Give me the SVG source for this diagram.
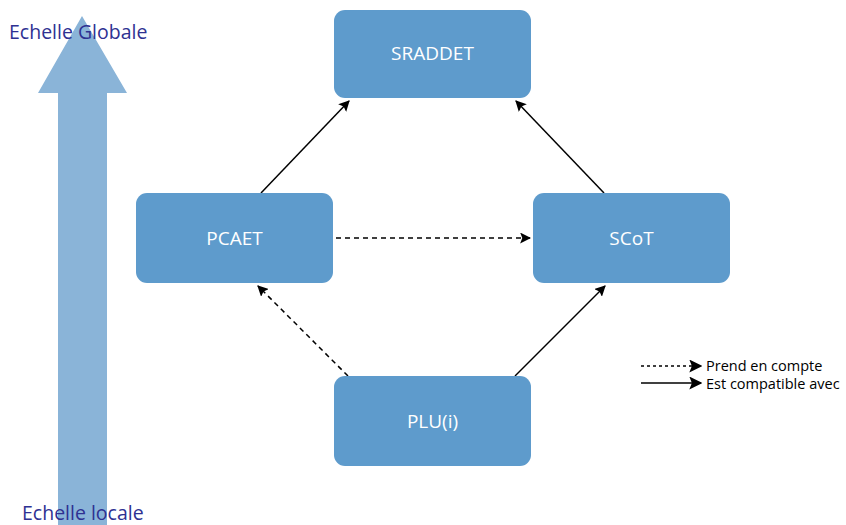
<svg xmlns="http://www.w3.org/2000/svg" width="846" height="525" viewBox="0 0 846 525">
<style>
.box{fill:#5e9bcc}
.lbl{font-family:"Open Sans","Liberation Sans",sans-serif;font-size:19px;fill:#fff;text-anchor:middle}
.scale{font-family:"Open Sans","Liberation Sans",sans-serif;font-size:19.5px;fill:#2e3192}
.leg{font-family:"Open Sans","Liberation Sans",sans-serif;font-size:14.5px;fill:#000}
.c{stroke:#000;stroke-width:1.5;fill:none;marker-end:url(#ah)}
.d{stroke-dasharray:5,4}
</style>
<defs>
<marker id="ah" viewBox="0 0 10 10" refX="9" refY="5" markerWidth="11" markerHeight="11" markerUnits="userSpaceOnUse" orient="auto"><path d="M0,0 L10,5 L0,10 L2,5 Z" fill="#000"/></marker>
<marker id="ahl" viewBox="0 0 10 10" refX="9" refY="5" markerWidth="13" markerHeight="13" markerUnits="userSpaceOnUse" orient="auto"><path d="M0,0 L10,5 L0,10 L2,5 Z" fill="#000"/></marker>
</defs>
<g id="scale-arrow">
<polygon points="82,16 127,93 107,93 107,525 58,525 58,93 38,93" fill="#8ab4d8"/>
<text class="scale" x="9" y="39">Echelle Globale</text>
<text class="scale" x="22" y="520">Echelle locale</text>
</g>
<g id="connectors">
<line class="c" x1="261" y1="193" x2="349" y2="101"/>
<line class="c" x1="604" y1="193" x2="516" y2="101"/>
<line class="c" x1="515" y1="376" x2="605" y2="286"/>
<line class="c d" x1="348" y1="376" x2="258" y2="286"/>
<line class="c d" x1="336" y1="238" x2="530" y2="238"/>
</g>
<g id="SRADDET"><rect class="box" x="334" y="10" width="197" height="88" rx="11"/><text class="lbl" x="432.5" y="60">SRADDET</text></g>
<g id="PCAET"><rect class="box" x="136" y="193" width="197" height="90" rx="11"/><text class="lbl" x="234.5" y="245">PCAET</text></g>
<g id="SCoT"><rect class="box" x="533" y="193" width="197" height="90" rx="11"/><text class="lbl" x="631.5" y="245">SCoT</text></g>
<g id="PLU"><rect class="box" x="334" y="376" width="197" height="90" rx="11"/><text class="lbl" x="432.5" y="428">PLU(i)</text></g>
<g id="legend">
<line x1="641" y1="366" x2="701" y2="366" stroke="#000" stroke-width="1.3" stroke-dasharray="3,3" marker-end="url(#ahl)"/>
<line x1="641" y1="383" x2="701" y2="383" stroke="#000" stroke-width="1.3" marker-end="url(#ahl)"/>
<text class="leg" x="706" y="371">Prend en compte</text>
<text class="leg" x="706" y="389">Est compatible avec</text>
</g>
</svg>
